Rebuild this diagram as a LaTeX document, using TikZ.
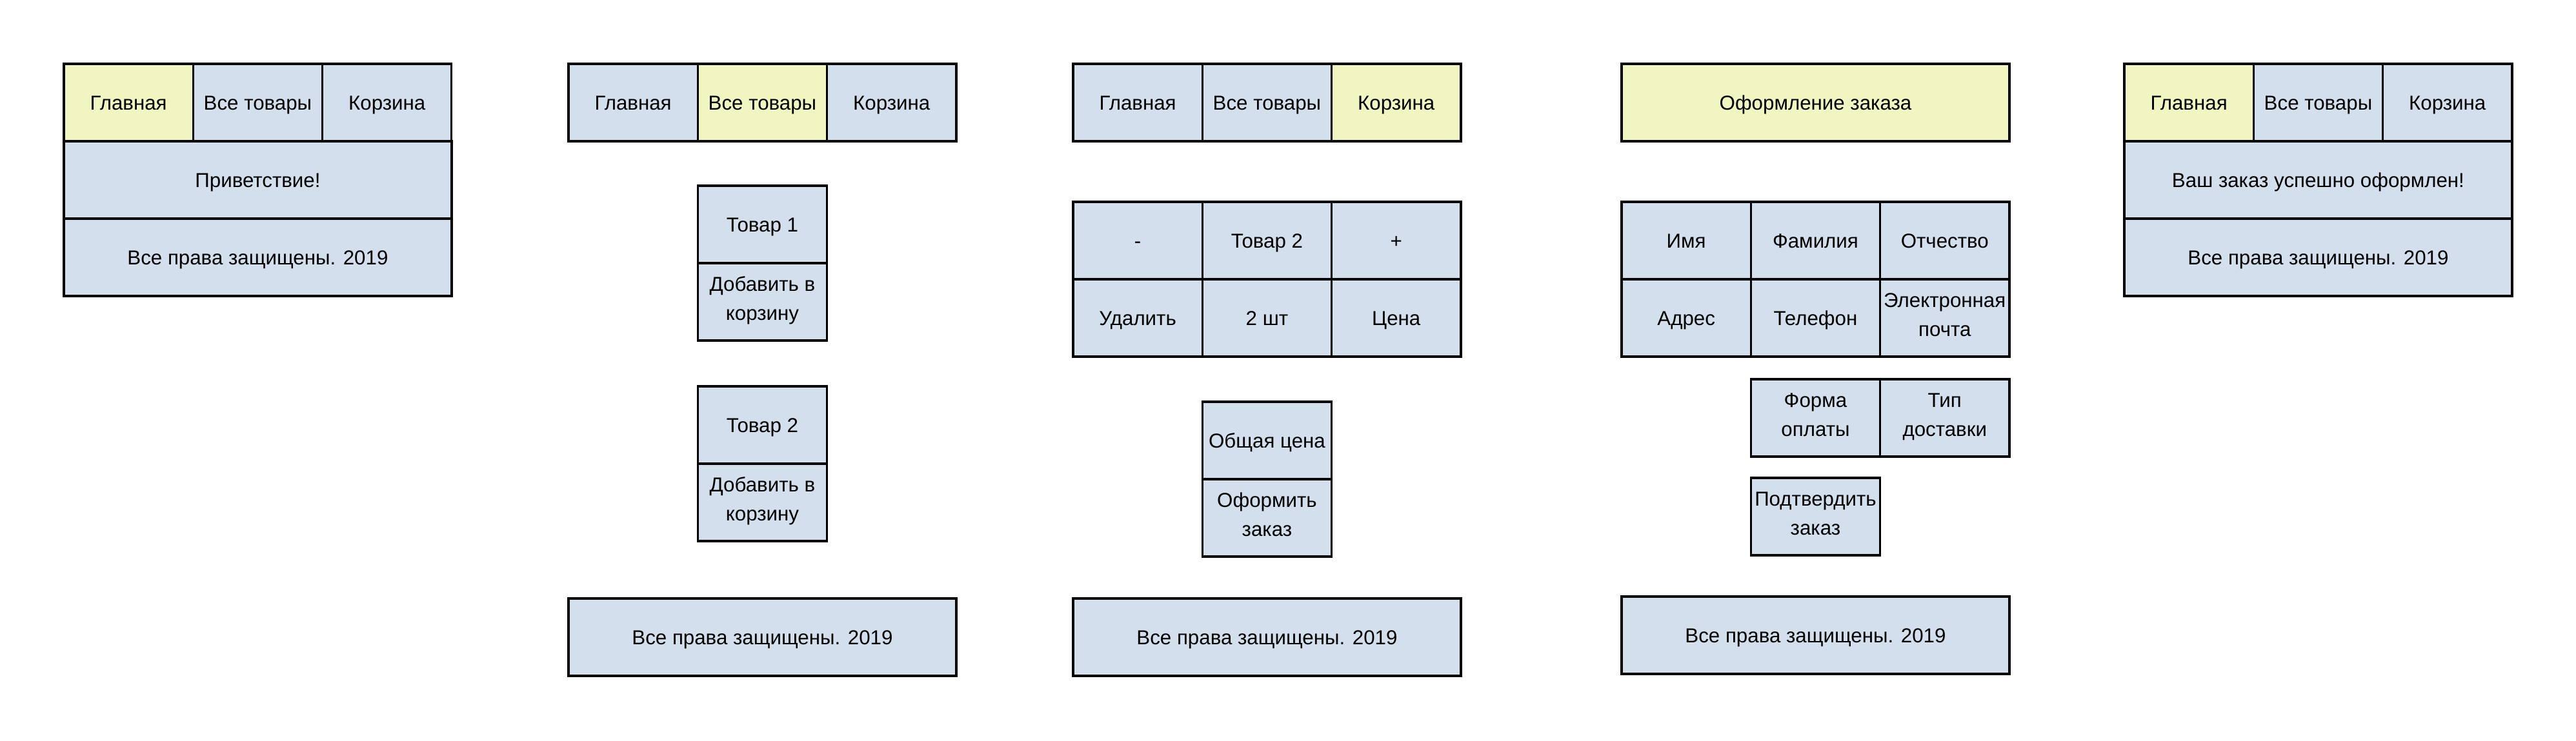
\documentclass[tikz,border=0pt]{standalone}
\usepackage{fontspec}
\setmainfont{Liberation Sans}
\usepackage{tikz}
\usetikzlibrary{positioning}
\definecolor{cellblue}{RGB}{212,223,237}
\definecolor{activeyellow}{RGB}{240,245,193}
\newcommand{\cellstrut}{\rule[-3pt]{0pt}{12.8pt}}
\tikzset{
  cell/.style={rectangle, draw=black, fill=cellblue, line width=0.9pt,
    minimum width=2.003cm, minimum height=1.2cm, inner sep=0pt, outer sep=0pt,
    align=center, font=\fontsize{8.9}{12.8}\selectfont,
    execute at begin node=\cellstrut, execute at end node=\cellstrut},
  widecell/.style={cell, minimum width=6.01cm},
  active/.style={fill=activeyellow}
}

\begin{document}
\begin{tikzpicture}
  \useasboundingbox (0,0) rectangle (39.92,-11.48);

  % Page 1: main page
  \node[cell, active, anchor=north west] (home-g) at (0.99,-0.99) {Главная};
  \node[cell, right=0pt of home-g] (home-t) {Все товары};
  \node[cell, right=0pt of home-t] (home-k) {Корзина};
  \node[widecell, below=0pt of home-t] (home-hi) {Приветствие!};
  \node[widecell, below=0pt of home-hi] (home-foot) {Все права защищены. 2019};

  % Page 2: all products
  \begin{scope}[xshift=7.82cm]
    \node[cell, anchor=north west] (all-g) at (0.99,-0.99) {Главная};
    \node[cell, active, right=0pt of all-g] (all-t) {Все товары};
    \node[cell, right=0pt of all-t] (all-k) {Корзина};
    \node[cell, below=0.69cm of all-t] (all-p1) {Товар 1};
    \node[cell, below=0pt of all-p1] (all-a1) {Добавить в\\корзину};
    \node[cell, below=0.71cm of all-a1] (all-p2) {Товар 2};
    \node[cell, below=0pt of all-p2] (all-a2) {Добавить в\\корзину};
    \node[widecell, below=0.89cm of all-a2] (all-foot) {Все права защищены. 2019};
  \end{scope}

  % Page 3: cart
  \begin{scope}[xshift=15.64cm]
    \node[cell, anchor=north west] (cart-g) at (0.99,-0.99) {Главная};
    \node[cell, right=0pt of cart-g] (cart-t) {Все товары};
    \node[cell, active, right=0pt of cart-t] (cart-k) {Корзина};
    \node[cell, below=0.94cm of cart-g] (cart-minus) {-};
    \node[cell, right=0pt of cart-minus] (cart-item) {Товар 2};
    \node[cell, right=0pt of cart-item] (cart-plus) {+};
    \node[cell, below=0pt of cart-minus] (cart-del) {Удалить};
    \node[cell, below=0pt of cart-item] (cart-qty) {2 шт};
    \node[cell, below=0pt of cart-plus] (cart-price) {Цена};
    \node[cell, below=0.70cm of cart-qty] (cart-total) {Общая цена};
    \node[cell, below=0pt of cart-total] (cart-order) {Оформить\\заказ};
    \node[widecell, below=0.65cm of cart-order] (cart-foot) {Все права защищены. 2019};
  \end{scope}

  % Page 4: checkout
  \begin{scope}[xshift=24.14cm]
    \node[widecell, active, anchor=north west] (order-head) at (0.99,-0.99) {Оформление заказа};
    \node[cell, below=0.94cm of order-head.south west, anchor=north west] (order-name) {Имя};
    \node[cell, right=0pt of order-name] (order-surname) {Фамилия};
    \node[cell, right=0pt of order-surname] (order-patr) {Отчество};
    \node[cell, below=0pt of order-name] (order-addr) {Адрес};
    \node[cell, below=0pt of order-surname] (order-phone) {Телефон};
    \node[cell, below=0pt of order-patr] (order-mail) {Электронная\\почта};
    \node[cell, below=0.35cm of order-phone] (order-pay) {Форма\\оплаты};
    \node[cell, below=0.35cm of order-mail] (order-ship) {Тип\\доставки};
    \node[cell, below=0.33cm of order-pay] (order-ok) {Подтвердить\\заказ};
    \node[widecell, below=0.64cm of order-ok] (order-foot) {Все права защищены. 2019};
  \end{scope}

  % Page 5: order done
  \begin{scope}[xshift=31.93cm]
    \node[cell, active, anchor=north west] (done-g) at (0.99,-0.99) {Главная};
    \node[cell, right=0pt of done-g] (done-t) {Все товары};
    \node[cell, right=0pt of done-t] (done-k) {Корзина};
    \node[widecell, below=0pt of done-t] (done-msg) {Ваш заказ успешно оформлен!};
    \node[widecell, below=0pt of done-msg] (done-foot) {Все права защищены. 2019};
  \end{scope}
\end{tikzpicture}
\end{document}
